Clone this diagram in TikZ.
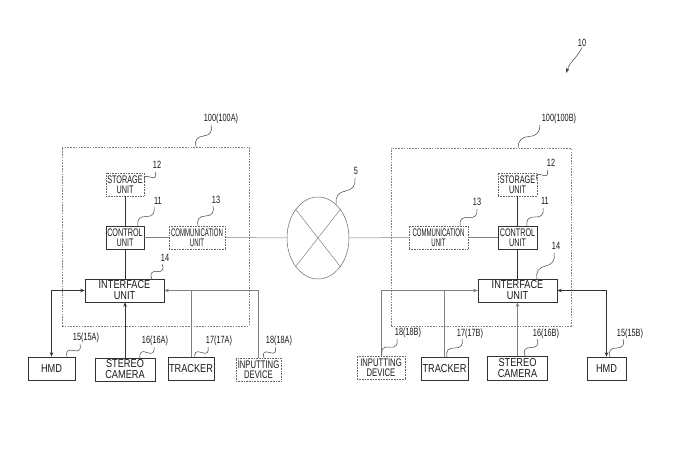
\documentclass[tikz,border=0pt]{standalone}
\usepackage{fontspec}
\setmainfont{Liberation Sans}
\newfontfamily\fStor[FakeStretch=0.66]{Liberation Sans}
\newfontfamily\fComm[FakeStretch=0.55]{Liberation Sans}
\newfontfamily\fInp[FakeStretch=0.7]{Liberation Sans}
\newfontfamily\fNorm[FakeStretch=0.8]{Liberation Sans}
\newfontfamily\fLab[FakeStretch=0.7]{Liberation Sans}
\usetikzlibrary{shapes.geometric,arrows.meta,calc}
\newcommand\squig[2]{\draw[leadline] #1 .. controls ($#1!0.15!#2!5pt!90:#2$) and ($#1!0.35!#2!5pt!90:#2$) .. ($#1!0.5!#2$) .. controls ($#1!0.65!#2!5pt!-90:#2$) and ($#1!0.85!#2!5pt!-90:#2$) .. #2;}
\begin{document}
\begin{tikzpicture}[x=1pt,y=-1pt,
  box/.style={draw=black!80, line width=0.6pt, inner sep=0pt, align=center, text=black!90},
  dbox/.style={box, draw=black!60, densely dotted},
  fs/.style={font=\fStor\fontsize{11}{10}\selectfont},
  fc/.style={font=\fComm\fontsize{11}{10}\selectfont},
  fi/.style={font=\fInp\fontsize{11}{10}\selectfont},
  fn/.style={font=\fNorm\fontsize{11.5}{11}\selectfont},
  sysbox/.style={draw=black!50, dash pattern=on 1.6pt off 1.2pt, line width=0.5pt, inner sep=0pt},
  wire/.style={draw=black!80, line width=0.6pt},
  gwire/.style={draw=black!50, line width=0.5pt},
  leadline/.style={draw=black!75, line width=0.5pt},
  lab/.style={font=\fLab\fontsize{10.5}{11}\selectfont, inner sep=0.5pt, text=black!90},
  arr/.style={-{Stealth[length=4.5pt,width=3.5pt]}},
  darr/.style={{Stealth[length=4.5pt,width=3.5pt]}-{Stealth[length=4.5pt,width=3.5pt]}}
]
\useasboundingbox (0,0) rectangle (685,448);

% ---------- left system ----------
\node[sysbox, minimum width=187pt, minimum height=179pt] (sysA) at (155.5,236.5) {};
\node[dbox, fs, minimum width=38pt, minimum height=23pt] (storA) at (125,184.5) {STORAGE\\UNIT};
\node[box, fs, minimum width=38pt, minimum height=23pt] (ctrlA) at (125,237.5) {CONTROL\\UNIT};
\node[dbox, fc, minimum width=56pt, minimum height=23pt] (commA) at (197,237.5) {COMMUNICATION\\UNIT};
\node[box, fn, minimum width=79pt, minimum height=23pt] (ifA) at (124.5,290.5) {INTERFACE\\UNIT};
\node[box, fn, minimum width=47pt, minimum height=23pt] (hmdA) at (51.5,368.5) {HMD};
\node[box, fn, minimum width=60pt, minimum height=23pt] (camA) at (125,369.5) {STEREO\\CAMERA};
\node[box, fn, minimum width=46pt, minimum height=23pt] (trkA) at (191,369) {TRACKER};
\node[dbox, fi, minimum width=45pt, minimum height=23pt] (inpA) at (258.5,369.5) {INPUTTING\\DEVICE};

\draw[wire] (storA) -- (ctrlA);
\draw[wire] (ctrlA) -- (ctrlA |- ifA.north);
\draw[gwire] (ctrlA) -- (commA);
\draw[wire, darr] (ifA.west) -| (hmdA.north);
\draw[wire, arr] (camA.north) -- (camA.north |- ifA.south);
\draw[gwire, arr] (inpA.north) |- (ifA.east);
\draw[gwire] (trkA.north) -- (trkA.north |- ifA.east);

% ---------- network ----------
\node[ellipse, draw=black!60, line width=0.5pt, minimum width=62pt, minimum height=82pt, inner sep=0pt] (net) at (318,238) {};
\draw[gwire] (net.128) -- (net.-52);
\draw[gwire] (net.52) -- (net.-128);
\draw[gwire] (commA) -- (net);

% ---------- right system ----------
\node[sysbox, minimum width=180pt, minimum height=178pt] (sysB) at (481,237) {};
\node[dbox, fs, minimum width=39pt, minimum height=23pt] (storB) at (517.5,184.5) {STORAGE\\UNIT};
\node[box, fs, minimum width=39pt, minimum height=23pt] (ctrlB) at (517.5,237.5) {CONTROL\\UNIT};
\node[dbox, fc, minimum width=59pt, minimum height=23pt] (commB) at (438.5,237.5) {COMMUNICATION\\UNIT};
\node[box, fn, minimum width=79pt, minimum height=23pt] (ifB) at (517.5,290.5) {INTERFACE\\UNIT};
\node[dbox, fi, minimum width=48pt, minimum height=23pt] (inpB) at (381,367.5) {INPUTTING\\DEVICE};
\node[box, fn, minimum width=47pt, minimum height=23pt] (trkB) at (444.5,368.5) {TRACKER};
\node[box, fn, minimum width=60pt, minimum height=24pt] (camB) at (517.5,368.5) {STEREO\\CAMERA};
\node[box, fn, minimum width=39pt, minimum height=23pt] (hmdB) at (606.5,368.5) {HMD};

\draw[gwire] (net) -- (commB);
\draw[gwire] (commB) -- (ctrlB);
\draw[wire] (storB) -- (ctrlB);
\draw[wire] (ctrlB) -- (ifB);
\draw[gwire, arr] (inpB.north) |- (ifB.west);
\draw[gwire] (trkB.north) -- (trkB.north |- ifB.west);
\draw[gwire, arr] (camB.north) -- (camB.north |- ifB.south);
\draw[wire, darr] (ifB.east) -| (hmdB.north);

% ---------- labels ----------
\node[lab] (l100A) at (221,119) {100(100A)};
\node[lab] (l12A) at (157,165) {12};
\node[lab] (l11A) at (158,201) {11};
\node[lab] (l13A) at (216,200) {13};
\node[lab] (l14A) at (165,258) {14};
\node[lab] (l5) at (356,171) {5};
\node[lab] (l15A) at (86,338) {15(15A)};
\node[lab] (l16A) at (155,341) {16(16A)};
\node[lab] (l17A) at (219,341) {17(17A)};
\node[lab] (l18A) at (279,341) {18(18A)};
\node[lab] (l100B) at (559,119) {100(100B)};
\node[lab] (l12B) at (551,163) {12};
\node[lab] (l11B) at (545,201) {11};
\node[lab] (l13B) at (477,202) {13};
\node[lab] (l14B) at (556,246) {14};
\node[lab] (l18B) at (408,333) {18(18B)};
\node[lab] (l17B) at (470,334) {17(17B)};
\node[lab] (l16B) at (546,334) {16(16B)};
\node[lab] (l15B) at (630,334) {15(15B)};
\node[lab] (l10) at (582,43) {10};

\squig{(196,147)}{(211,125)}
\squig{(145,182)}{(155,172)}
\squig{(138,226)}{(154,207)}
\squig{(198,226)}{(213,206)}
\squig{(152,279)}{(162,264)}
\squig{(336,204)}{(355,178)}
\squig{(67,357)}{(80,344)}
\squig{(140,358)}{(154,347)}
\squig{(195,358)}{(208,347)}
\squig{(264,358)}{(275,347)}
\squig{(518,148)}{(540,125)}
\squig{(537,180)}{(547,170)}
\squig{(527,226)}{(543,208)}
\squig{(460,226)}{(477,209)}
\squig{(537,279)}{(554,253)}
\squig{(382,355)}{(397,339)}
\squig{(447,357)}{(462,339)}
\squig{(525,356)}{(537,339)}
\squig{(610,357)}{(623,339)}
\draw[leadline, -{Stealth[length=5pt,width=3.5pt]}] (l10.south) .. controls (577,58) and (571,60) .. (566,73);
\end{tikzpicture}
\end{document}
